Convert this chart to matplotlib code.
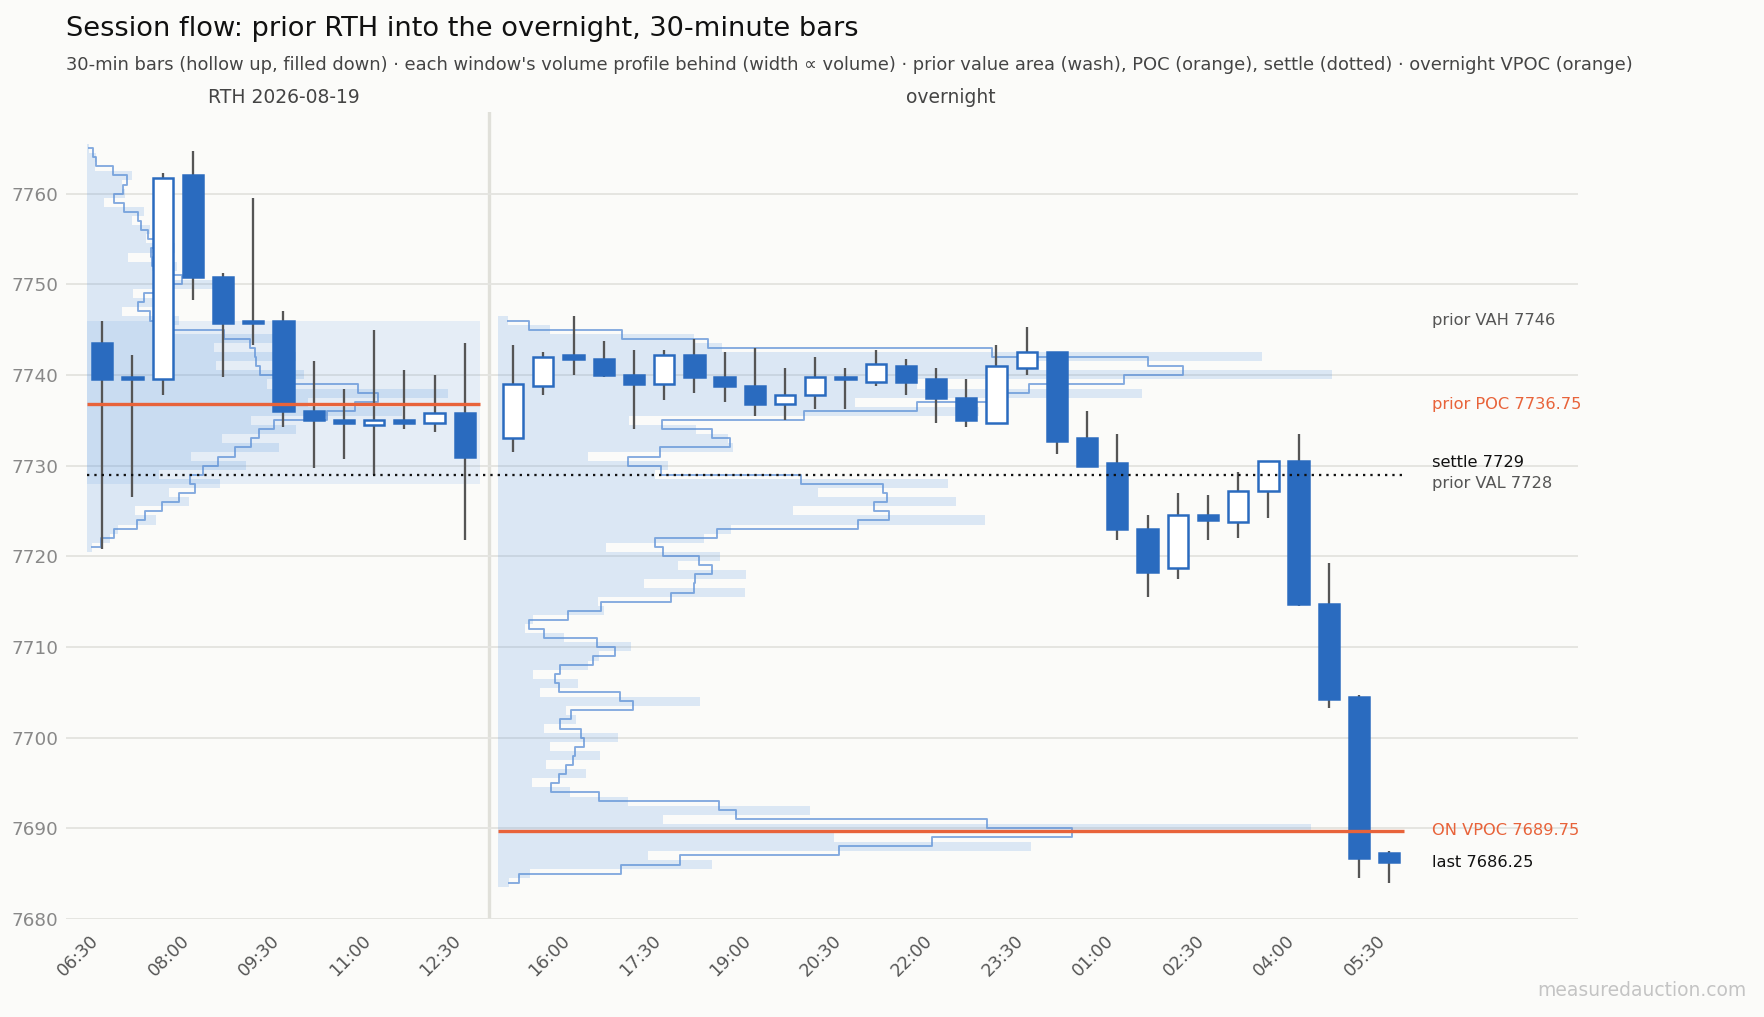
import numpy as np
import matplotlib.pyplot as plt

# ---- data -------------------------------------------------------------
rth_times = ["06:30", "07:00", "07:30", "08:00", "08:30", "09:00", "09:30",
             "10:00", "10:30", "11:00", "11:30", "12:00", "12:30"]
rth_open = [7743.5, 7739.75, 7739.5, 7762.0, 7750.75, 7746.0, 7746.0,
            7736.0, 7735.0, 7734.5, 7735.0, 7734.75, 7735.75]
rth_high = [7746.0, 7742.25, 7762.25, 7764.75, 7751.25, 7759.5, 7747.0,
            7741.5, 7738.5, 7745.0, 7740.5, 7740.0, 7743.5]
rth_low = [7720.75, 7726.5, 7737.75, 7748.25, 7739.75, 7743.25, 7734.25,
           7729.75, 7730.75, 7729.0, 7734.0, 7733.75, 7721.75]
rth_close = [7739.5, 7739.5, 7761.75, 7750.75, 7745.75, 7745.75, 7736.0,
             7735.0, 7734.75, 7735.0, 7734.75, 7735.75, 7731.0]

on_times = ["15:00", "15:30", "16:00", "16:30", "17:00", "17:30", "18:00",
            "18:30", "19:00", "19:30", "20:00", "20:30", "21:00", "21:30",
            "22:00", "22:30", "23:00", "23:30", "00:00", "00:30", "01:00",
            "01:30", "02:00", "02:30", "03:00", "03:30", "04:00", "04:30",
            "05:00", "05:30"]
on_open = [7733.0, 7738.75, 7742.25, 7741.75, 7740.0, 7739.0, 7742.25,
           7739.75, 7738.75, 7736.75, 7737.75, 7739.75, 7739.25, 7741.0,
           7739.5, 7737.5, 7734.75, 7740.75, 7742.5, 7733.0, 7730.25,
           7723.0, 7718.75, 7724.5, 7723.75, 7727.25, 7730.5, 7714.75,
           7704.5, 7687.25]
on_high = [7743.25, 7742.5, 7746.5, 7743.75, 7742.75, 7742.75, 7744.0,
           7742.5, 7743.0, 7740.75, 7742.0, 7740.75, 7742.75, 7741.75,
           7740.75, 7739.5, 7743.25, 7745.25, 7742.5, 7736.0, 7733.5,
           7724.5, 7727.0, 7726.75, 7729.25, 7730.5, 7733.5, 7719.25,
           7704.75, 7687.5]
on_low = [7731.5, 7737.75, 7740.0, 7739.75, 7734.0, 7737.25, 7738.0,
          7737.0, 7735.5, 7735.0, 7736.25, 7736.25, 7738.75, 7737.75,
          7734.75, 7734.25, 7734.75, 7740.0, 7731.25, 7730.0, 7721.75,
          7715.5, 7717.5, 7721.75, 7722.0, 7724.25, 7714.5, 7703.25,
          7684.5, 7684.0]
on_close = [7739.0, 7742.0, 7741.75, 7740.0, 7739.0, 7742.25, 7739.75,
            7738.75, 7736.75, 7737.75, 7739.75, 7739.5, 7741.25, 7739.25,
            7737.5, 7735.0, 7741.0, 7742.5, 7732.75, 7730.0, 7723.0,
            7718.25, 7724.5, 7724.0, 7727.25, 7730.5, 7714.75, 7704.25,
            7686.75, 7686.25]

# volume profiles, 1-point bins, listed upward from the lowest price
rth_prof_low = 7721
rth_prof_vol = [5, 23, 31, 70, 48, 103, 83, 135, 73, 161,
                105, 194, 137, 212, 166, 319, 224, 366, 182, 220,
                131, 212, 129, 200, 77, 93, 35, 69, 46, 127,
                66, 91, 41, 89, 60, 64, 45, 58, 17, 38,
                35, 45, 8, 9, 2]
on_prof_low = 7684
on_prof_vol = [11, 32, 214, 150, 533, 336, 813, 165, 312, 130,
               72, 34, 88, 48, 102, 52, 120, 46, 78, 68,
               202, 42, 80, 35, 90, 101, 133, 66, 27, 35,
               106, 100, 247, 146, 248, 180, 222, 108, 206, 233,
               487, 295, 458, 320, 450, 157, 170, 90, 235, 230,
               198, 131, 481, 357, 644, 419, 834, 536, 764, 224,
               196, 52, 10]

prior_vah = 7746
prior_val = 7728
prior_poc = 7736.75
settle = 7729
on_vpoc = 7689.75
last = 7686.25
rth_date = "2026-08-19"

# ---- style ------------------------------------------------------------
BG = "#fbfbf9"
BLUE = "#2a6bbf"
PROF = "#4a90e2"
ORANGE = "#e8633a"
WICK = "#555555"
GAP = 0.6
BODY_W = 0.67

fig = plt.figure(figsize=(11.76, 6.78), dpi=150, facecolor=BG)
ax = fig.add_axes([0.0374, 0.0964, 0.8572, 0.7935])
ax.set_facecolor(BG)

x_rth = np.arange(len(rth_times), dtype=float)
x_on = len(rth_times) + GAP + np.arange(len(on_times), dtype=float)
rth_span = (x_rth[0] - 0.5, x_rth[-1] + 0.5)
on_span = (x_on[0] - 0.5, x_on[-1] + 0.5)


def draw_profile(low, vols, span):
    vols = np.asarray(vols, dtype=float)
    prices = low + np.arange(len(vols))
    widths = vols / vols.max() * 0.92 * (span[1] - span[0])
    ax.barh(prices, widths, height=1.0, left=span[0], color=PROF,
            alpha=0.18, linewidth=0, zorder=1)
    ax.plot(span[0] + widths, prices, drawstyle="steps-mid", color="#5b8fd6",
            lw=0.9, alpha=0.75, zorder=2)


def draw_candles(xs, o, h, l, c):
    o, h, l, c = map(np.asarray, (o, h, l, c))
    ax.vlines(xs, l, h, color=WICK, lw=1.1, zorder=3)
    up = c >= o
    bottom = np.minimum(o, c)
    height = np.maximum(np.abs(c - o), 0.12)
    ax.bar(xs[up], height[up], bottom=bottom[up], width=BODY_W,
           facecolor="white", edgecolor=BLUE, lw=1.2, zorder=4)
    ax.bar(xs[~up], height[~up], bottom=bottom[~up], width=BODY_W,
           facecolor=BLUE, edgecolor=BLUE, lw=1.2, zorder=4)


draw_profile(rth_prof_low, rth_prof_vol, rth_span)
draw_profile(on_prof_low, on_prof_vol, on_span)

# prior value area wash and POC on the RTH window
ax.fill_between(rth_span, prior_val, prior_vah, color=PROF, alpha=0.12,
                linewidth=0, zorder=1.5)

draw_candles(x_rth, rth_open, rth_high, rth_low, rth_close)
draw_candles(x_on, on_open, on_high, on_low, on_close)

ax.hlines(prior_poc, *rth_span, color=ORANGE, lw=1.6, zorder=6)
ax.hlines(on_vpoc, *on_span, color=ORANGE, lw=1.6, zorder=6)
ax.hlines(settle, rth_span[0], on_span[1], color="#111111", lw=1.1,
          linestyles=(0, (1, 2.2)), zorder=6)

# session separator
sep = (rth_span[1] + on_span[0]) / 2
ax.axvline(sep, color="#e0e0da", lw=1.6, zorder=0.5)

# window headers
trans = ax.get_xaxis_transform()
ax.text(np.mean(rth_span), 1.018, f"RTH {rth_date}", transform=trans,
        ha="center", va="center", fontsize=9, color="#444444")
ax.text(np.mean(on_span), 1.018, "overnight", transform=trans,
        ha="center", va="center", fontsize=9, color="#444444")

# right-hand level labels, nudged apart when they crowd
labels = [
    (prior_vah, f"prior VAH {prior_vah:g}", "#555555"),
    (prior_poc, f"prior POC {prior_poc:g}", ORANGE),
    (settle, f"settle {settle:g}", "#111111"),
    (prior_val, f"prior VAL {prior_val:g}", "#555555"),
    (on_vpoc, f"ON VPOC {on_vpoc:g}", ORANGE),
    (last, f"last {last:g}", "#111111"),
]
labels.sort(key=lambda t: t[0])
placed = []
for val, txt, col in labels:
    y = val
    if placed and y - placed[-1] < 2.3:
        y = placed[-1] + 2.3
    placed.append(y)
    ax.text(on_span[1] + 0.9, y, txt, ha="left", va="center", fontsize=7.8,
            color=col, zorder=7)

# axes
ax.set_xlim(-1.2, 48.85)
ax.set_ylim(7680, 7769)
ax.set_yticks(np.arange(7680, 7761, 10))
ax.grid(axis="y", color="#e4e4e0", lw=0.9, zorder=0)
ax.set_axisbelow(True)

tick_pos, tick_lab = [], []
for xs, names in ((x_rth, rth_times), (x_on, on_times)):
    n = len(names)
    for i in range((n - 1) % 3, n, 3):
        tick_pos.append(xs[i])
        tick_lab.append(names[i])
ax.set_xticks(tick_pos)
ax.set_xticklabels(tick_lab, rotation=45, ha="right")
ax.tick_params(axis="both", length=0)
ax.tick_params(axis="x", colors="#555555", pad=6, labelsize=8.4)
ax.tick_params(axis="y", colors="#888888", labelsize=8.8)
for s in ax.spines.values():
    s.set_visible(False)

fig.text(0.0374, 0.9715, "Session flow: prior RTH into the overnight, 30-minute bars",
         fontsize=13.1, color="#111111", va="center")
fig.text(0.0374, 0.936,
         "30-min bars (hollow up, filled down) \u00b7 each window's volume profile behind "
         "(width \u221d volume) \u00b7 prior value area (wash), POC (orange), settle (dotted) "
         "\u00b7 overnight VPOC (orange)",
         fontsize=8.6, color="#444444", va="center")
fig.text(0.99, 0.026, "measuredauction.com", fontsize=9, color="#c4c4c4",
         ha="right", va="center")

fig.savefig("out.png", dpi=150, facecolor=BG)
